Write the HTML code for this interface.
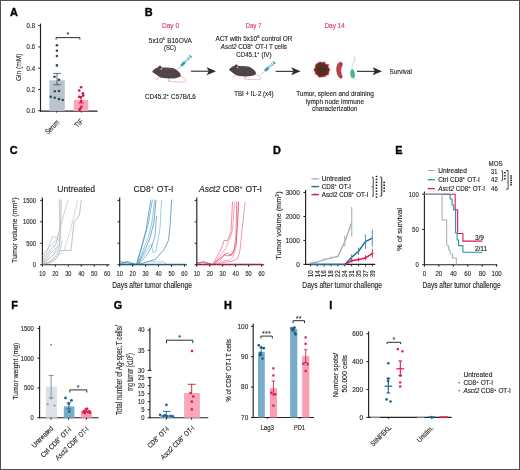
<!DOCTYPE html>
<html><head><meta charset="utf-8"><style>
html,body{margin:0;padding:0;background:#fff;}
#fig{position:relative;width:520px;height:470px;overflow:hidden;background:#fff;}
#fig svg{position:absolute;left:0;top:0;filter:blur(0.3px);}
#bd{position:absolute;left:0;top:0;width:518px;height:468px;border:1px solid #505050;pointer-events:none;}
text{font-family:"Liberation Sans", sans-serif;}
</style></head><body><div id="fig">
<svg width="520" height="470" viewBox="0 0 520 470" font-family='"Liberation Sans", sans-serif'>
<text x="10.00" y="15.80" font-size="10.9" font-weight="bold" fill="#000" stroke="#000" stroke-width="0.35">A</text>
<line x1="40.50" y1="23.60" x2="40.50" y2="111.60" stroke="#231f20" stroke-width="1.15" />
<line x1="40.00" y1="111.10" x2="97.50" y2="111.10" stroke="#231f20" stroke-width="1.15" />
<line x1="38.30" y1="25.70" x2="40.50" y2="25.70" stroke="#231f20" stroke-width="1.00" />
<text x="35.00" y="28.08" font-size="6.60" fill="#333333" stroke="#333333" stroke-width="0.16" text-anchor="end" textLength="8.40" lengthAdjust="spacingAndGlyphs">0.8</text>
<line x1="38.30" y1="46.95" x2="40.50" y2="46.95" stroke="#231f20" stroke-width="1.00" />
<text x="35.00" y="49.33" font-size="6.60" fill="#333333" stroke="#333333" stroke-width="0.16" text-anchor="end" textLength="8.40" lengthAdjust="spacingAndGlyphs">0.6</text>
<line x1="38.30" y1="68.20" x2="40.50" y2="68.20" stroke="#231f20" stroke-width="1.00" />
<text x="35.00" y="70.58" font-size="6.60" fill="#333333" stroke="#333333" stroke-width="0.16" text-anchor="end" textLength="8.40" lengthAdjust="spacingAndGlyphs">0.4</text>
<line x1="38.30" y1="89.45" x2="40.50" y2="89.45" stroke="#231f20" stroke-width="1.00" />
<text x="35.00" y="91.83" font-size="6.60" fill="#333333" stroke="#333333" stroke-width="0.16" text-anchor="end" textLength="8.40" lengthAdjust="spacingAndGlyphs">0.2</text>
<line x1="38.30" y1="110.70" x2="40.50" y2="110.70" stroke="#231f20" stroke-width="1.00" />
<text x="35.00" y="113.08" font-size="6.60" fill="#333333" stroke="#333333" stroke-width="0.16" text-anchor="end" textLength="8.40" lengthAdjust="spacingAndGlyphs">0.0</text>
<text x="0" y="2.74" font-size="7.60" fill="#333333" stroke="#333333" stroke-width="0.14" text-anchor="middle" textLength="27.50" lengthAdjust="spacingAndGlyphs" transform="translate(17.90 67.30) rotate(-90.0)">Gln (mM)</text>
<rect x="49.40" y="80.30" width="15.40" height="30.80" fill="#b9c5cd"/>
<rect x="73.80" y="99.90" width="14.50" height="11.20" fill="#f8a8b8"/>
<line x1="57.00" y1="73.40" x2="57.00" y2="84.80" stroke="#3a4a56" stroke-width="0.80" />
<line x1="53.20" y1="73.40" x2="60.80" y2="73.40" stroke="#3a4a56" stroke-width="0.80" />
<line x1="53.20" y1="84.80" x2="60.80" y2="84.80" stroke="#3a4a56" stroke-width="0.80" />
<line x1="81.10" y1="96.70" x2="81.10" y2="103.00" stroke="#d0103c" stroke-width="0.80" />
<line x1="78.30" y1="96.70" x2="83.90" y2="96.70" stroke="#d0103c" stroke-width="0.80" />
<line x1="78.30" y1="103.00" x2="83.90" y2="103.00" stroke="#d0103c" stroke-width="0.80" />
<circle cx="56.90" cy="45.30" r="1.30" fill="#34495a"/>
<circle cx="56.90" cy="50.80" r="1.30" fill="#34495a"/>
<circle cx="56.90" cy="56.00" r="1.30" fill="#34495a"/>
<circle cx="56.90" cy="65.40" r="1.30" fill="#34495a"/>
<circle cx="54.50" cy="76.70" r="1.30" fill="#34495a"/>
<circle cx="59.00" cy="79.80" r="1.30" fill="#34495a"/>
<circle cx="54.80" cy="91.30" r="1.30" fill="#34495a"/>
<circle cx="59.00" cy="91.00" r="1.30" fill="#34495a"/>
<circle cx="50.70" cy="96.80" r="1.30" fill="#34495a"/>
<circle cx="54.80" cy="97.70" r="1.30" fill="#34495a"/>
<circle cx="59.00" cy="99.10" r="1.30" fill="#34495a"/>
<circle cx="62.80" cy="100.00" r="1.30" fill="#34495a"/>
<circle cx="81.10" cy="87.20" r="1.30" fill="#e0103c"/>
<circle cx="79.20" cy="90.50" r="1.30" fill="#e0103c"/>
<circle cx="82.90" cy="93.40" r="1.30" fill="#e0103c"/>
<circle cx="83.20" cy="95.20" r="1.30" fill="#e0103c"/>
<circle cx="79.20" cy="96.70" r="1.30" fill="#e0103c"/>
<circle cx="80.70" cy="97.40" r="1.30" fill="#e0103c"/>
<circle cx="81.10" cy="101.40" r="1.30" fill="#e0103c"/>
<circle cx="81.40" cy="106.80" r="1.30" fill="#e0103c"/>
<circle cx="80.30" cy="108.60" r="1.30" fill="#e0103c"/>
<circle cx="79.60" cy="109.70" r="1.30" fill="#e0103c"/>
<line x1="56.50" y1="111.00" x2="56.50" y2="112.80" stroke="#231f20" stroke-width="0.70" />
<line x1="81.40" y1="111.00" x2="81.40" y2="112.80" stroke="#231f20" stroke-width="0.70" />
<path d="M56.10,39.50 V37.60 H79.90 V39.50" fill="none" stroke="#222" stroke-width="0.95" />
<text x="68.00" y="37.20" font-size="7.20" fill="#231f20" stroke="#231f20" stroke-width="0.05" text-anchor="middle" letter-spacing="0.20">*</text>
<text x="0" y="2.74" font-size="7.60" fill="#333333" stroke="#333333" stroke-width="0.14" text-anchor="end" textLength="16.80" lengthAdjust="spacingAndGlyphs" transform="translate(57.90 121.00) rotate(-45.0)">Serum</text>
<text x="0" y="2.74" font-size="7.60" fill="#333333" stroke="#333333" stroke-width="0.14" text-anchor="end" textLength="8.80" lengthAdjust="spacingAndGlyphs" transform="translate(81.80 120.00) rotate(-45.0)">TIF</text>
<text x="144.70" y="15.80" font-size="10.9" font-weight="bold" fill="#000" stroke="#000" stroke-width="0.35">B</text>
<text x="170.50" y="28.05" font-size="6.80" fill="#d8386a" stroke="#d8386a" stroke-width="0.14" text-anchor="middle" textLength="17.20" lengthAdjust="spacingAndGlyphs">Day 0</text>
<text x="253.50" y="27.85" font-size="6.80" fill="#d8386a" stroke="#d8386a" stroke-width="0.14" text-anchor="middle" textLength="16.00" lengthAdjust="spacingAndGlyphs">Day 7</text>
<text x="334.60" y="27.95" font-size="6.80" fill="#d8386a" stroke="#d8386a" stroke-width="0.14" text-anchor="middle" textLength="20.20" lengthAdjust="spacingAndGlyphs">Day 14</text>
<text x="170.30" y="42.75" font-size="6.80" fill="#231f20" stroke="#231f20" stroke-width="0.14" text-anchor="middle" textLength="43.00" lengthAdjust="spacingAndGlyphs">5x10<tspan dy="-2.58" font-size="4.08">5</tspan><tspan dy="2.58" dx="0.54"> B16OVA</tspan></text>
<text x="170.00" y="50.25" font-size="6.80" fill="#231f20" stroke="#231f20" stroke-width="0.14" text-anchor="middle" textLength="12.00" lengthAdjust="spacingAndGlyphs">(SC)</text>
<text x="170.40" y="98.65" font-size="6.80" fill="#231f20" stroke="#231f20" stroke-width="0.14" text-anchor="middle" textLength="50.80" lengthAdjust="spacingAndGlyphs">CD45.2<tspan dy="-2.58" font-size="4.08">+</tspan><tspan dy="2.58" dx="0.54"> C57B/L6</tspan></text>
<text x="253.90" y="40.95" font-size="6.80" fill="#231f20" stroke="#231f20" stroke-width="0.14" text-anchor="middle" textLength="76.90" lengthAdjust="spacingAndGlyphs">ACT with 5x10<tspan dy="-2.58" font-size="4.08">6</tspan><tspan dy="2.58" dx="0.54"> control OR</tspan></text>
<text x="253.90" y="48.95" font-size="6.80" fill="#231f20" stroke="#231f20" stroke-width="0.14" text-anchor="middle" textLength="66.10" lengthAdjust="spacingAndGlyphs"><tspan font-style="italic">Asct2</tspan> CD8<tspan dy="-2.58" font-size="4.08">+</tspan><tspan dy="2.58" dx="0.54"> OT-I T cells</tspan></text>
<text x="253.90" y="56.75" font-size="6.80" fill="#231f20" stroke="#231f20" stroke-width="0.14" text-anchor="middle" textLength="35.30" lengthAdjust="spacingAndGlyphs">CD45.1<tspan dy="-2.58" font-size="4.08">+</tspan><tspan dy="2.58" dx="0.54"> (IV)</tspan></text>
<text x="253.90" y="95.95" font-size="6.80" fill="#231f20" stroke="#231f20" stroke-width="0.14" text-anchor="middle" textLength="39.30" lengthAdjust="spacingAndGlyphs">TBI + IL-2 (x4)</text>
<text x="335.00" y="96.25" font-size="6.80" fill="#231f20" stroke="#231f20" stroke-width="0.14" text-anchor="middle" textLength="77.70" lengthAdjust="spacingAndGlyphs">Tumor, spleen and draining</text>
<text x="334.90" y="103.95" font-size="6.80" fill="#231f20" stroke="#231f20" stroke-width="0.14" text-anchor="middle" textLength="58.20" lengthAdjust="spacingAndGlyphs">lymph node immune</text>
<text x="334.70" y="111.25" font-size="6.80" fill="#231f20" stroke="#231f20" stroke-width="0.14" text-anchor="middle" textLength="45.30" lengthAdjust="spacingAndGlyphs">characterization</text>
<text x="389.60" y="73.95" font-size="6.80" fill="#231f20" stroke="#231f20" stroke-width="0.14" textLength="22.30" lengthAdjust="spacingAndGlyphs">Survival</text>
<line x1="191.00" y1="71.20" x2="209.00" y2="71.20" stroke="#2b2b2b" stroke-width="1.10" />
<path d="M216.00,71.20 L206.60,67.20 L208.80,71.20 L206.60,75.20 Z" fill="#2b2b2b" stroke="none" stroke-width="0.80" />
<line x1="275.70" y1="71.35" x2="293.60" y2="71.35" stroke="#2b2b2b" stroke-width="1.10" />
<path d="M300.60,71.35 L291.20,67.35 L293.40,71.35 L291.20,75.35 Z" fill="#2b2b2b" stroke="none" stroke-width="0.80" />
<line x1="357.00" y1="71.35" x2="375.00" y2="71.35" stroke="#2b2b2b" stroke-width="1.10" />
<path d="M382.00,71.35 L372.60,67.35 L374.80,71.35 L372.60,75.35 Z" fill="#2b2b2b" stroke="none" stroke-width="0.80" />
<g transform="translate(152.20 71.20) scale(1.060)"><path d="M25.8,4.6 C29.5,5.5 32.5,7.5 31.5,9.6 C30.5,10.8 22,9.9 15.5,9.6" fill="none" stroke="#e3a2a8" stroke-width="0.7"/><path d="M6.2,5.6 L4.8,7.6 L3.6,7.7 M15.8,6.6 L16.2,8.7 L14.6,9.0" fill="none" stroke="#e3a2a8" stroke-width="0.8"/><path d="M0,0 C1.5,-1.8 3.5,-3.2 5.5,-3.8 C6,-4.8 7.2,-5.4 8.2,-4.8 C8.8,-4.4 9,-3.8 9,-3.4 C12,-3.2 16,-3.4 19.6,-3.1 C22.5,-2 24.8,-0.2 26.4,2 C27.4,3.4 27,5 25.6,5.5 C23,6.5 20.5,6.9 18,6.9 C15,7 12.5,6.8 10.4,6.5 C8.6,6.2 7.4,5.8 6.6,5.2 C5,4.2 3.5,3.2 2,2 C1,1.4 0.2,0.8 0,0 Z" fill="#4f4447"/><path d="M10,-2.6 C14,-3 19,-3 21.5,-1.8 C17,-1.6 13,-1.4 10,-2.6 Z" fill="#6a5e60" opacity="0.7"/><ellipse cx="8.6" cy="-2.0" rx="0.8" ry="1.1" fill="#dba2aa"/><circle cx="0.5" cy="0.2" r="0.45" fill="#d9959c"/></g>
<g transform="translate(177.00 69.90) rotate(-44.79)"><line x1="0" y1="0" x2="5.92" y2="0" stroke="#6f9fb0" stroke-width="0.5"/><rect x="5.92" y="-1.3" width="10.26" height="2.6" rx="0.5" fill="#9fdcea"/><rect x="5.92" y="-1.3" width="5.13" height="2.6" rx="0.5" fill="#2f9fbe"/><rect x="16.18" y="-1.9" width="0.8" height="3.8" fill="#4fb0c8"/><line x1="16.57" y1="0" x2="19.73" y2="0" stroke="#8ccfe0" stroke-width="0.9"/><rect x="18.53" y="-1.6" width="1.2" height="3.2" rx="0.4" fill="#2a7f98"/></g>
<g transform="translate(229.00 69.50) scale(1.000)"><path d="M25.8,4.6 C29.5,5.5 32.5,7.5 31.5,9.6 C30.5,10.8 22,9.9 15.5,9.6" fill="none" stroke="#e3a2a8" stroke-width="0.7"/><path d="M6.2,5.6 L4.8,7.6 L3.6,7.7 M15.8,6.6 L16.2,8.7 L14.6,9.0" fill="none" stroke="#e3a2a8" stroke-width="0.8"/><path d="M0,0 C1.5,-1.8 3.5,-3.2 5.5,-3.8 C6,-4.8 7.2,-5.4 8.2,-4.8 C8.8,-4.4 9,-3.8 9,-3.4 C12,-3.2 16,-3.4 19.6,-3.1 C22.5,-2 24.8,-0.2 26.4,2 C27.4,3.4 27,5 25.6,5.5 C23,6.5 20.5,6.9 18,6.9 C15,7 12.5,6.8 10.4,6.5 C8.6,6.2 7.4,5.8 6.6,5.2 C5,4.2 3.5,3.2 2,2 C1,1.4 0.2,0.8 0,0 Z" fill="#4f4447"/><path d="M10,-2.6 C14,-3 19,-3 21.5,-1.8 C17,-1.6 13,-1.4 10,-2.6 Z" fill="#6a5e60" opacity="0.7"/><ellipse cx="8.6" cy="-2.0" rx="0.8" ry="1.1" fill="#dba2aa"/><circle cx="0.5" cy="0.2" r="0.45" fill="#d9959c"/></g>
<g transform="translate(260.80 74.40) rotate(-41.24)"><line x1="0" y1="0" x2="5.51" y2="0" stroke="#6f9fb0" stroke-width="0.5"/><rect x="5.51" y="-1.3" width="9.54" height="2.6" rx="0.5" fill="#9fdcea"/><rect x="5.51" y="-1.3" width="4.77" height="2.6" rx="0.5" fill="#2f9fbe"/><rect x="15.05" y="-1.9" width="0.8" height="3.8" fill="#4fb0c8"/><line x1="15.42" y1="0" x2="18.35" y2="0" stroke="#8ccfe0" stroke-width="0.9"/><rect x="17.15" y="-1.6" width="1.2" height="3.2" rx="0.4" fill="#2a7f98"/></g>
<defs><radialGradient id="tg"><stop offset="0" stop-color="#3e3424"/><stop offset="0.55" stop-color="#5a2a22"/><stop offset="1" stop-color="#8a2428"/></radialGradient><radialGradient id="th"><stop offset="0.6" stop-color="#f3b5b0" stop-opacity="0.7"/><stop offset="1" stop-color="#fbe0dc" stop-opacity="0"/></radialGradient></defs>
<circle cx="321.8" cy="69.5" r="10" fill="url(#th)"/>
<polygon points="329.92,69.50 329.08,71.05 328.65,72.55 328.63,74.46 326.78,75.03 325.61,76.10 324.13,76.66 322.55,76.63 321.00,77.10 319.28,77.25 318.00,76.08 317.24,74.56 315.35,74.18 315.45,72.33 314.71,71.01 313.73,69.50 315.23,68.10 315.48,66.69 315.51,64.93 316.70,63.84 318.07,63.03 319.43,62.22 321.02,62.04 322.51,62.70 324.31,61.78 325.21,63.59 326.28,64.52 328.57,64.58 328.11,66.69 328.56,68.06" fill="url(#tg)" stroke="#a83234" stroke-width="0.5"/>
<path d="M340.6,62.2 C342.6,62.4 342.9,64.6 341.4,67.0 C340.2,69.2 340.6,73.2 342.1,76.0 C342.8,77.8 341.2,78.8 339.8,77.8 C337.2,75.6 336.4,71.0 336.8,67.6 C337.1,64.6 338.6,62.0 340.6,62.2 Z" fill="#c2404c" stroke="#7c2432" stroke-width="0.60" />
<path d="M354.2,56.0 C355.6,58.5 354.0,60.5 353.5,62.5 C352.8,64.5 351.4,66.0 352.2,68.5" fill="none" stroke="#a8e0c0" stroke-width="0.80" />
<path d="M354.8,57.5 C356,59.5 355.2,61.5 354.4,62.8" fill="none" stroke="#c8ecd8" stroke-width="0.60" />
<path d="M352.0,69.0 C354.6,70.2 355.6,74.2 354.6,77.0 C353.8,78.8 351.6,78.6 350.8,76.6 C349.8,74.0 350.2,70.2 352.0,69.0 Z" fill="#48b884" stroke="none" stroke-width="0.80" />
<path d="M353.8,77.5 L355.6,79.6" fill="none" stroke="#48b884" stroke-width="0.60" />
<text x="9.70" y="153.80" font-size="10.9" font-weight="bold" fill="#000" stroke="#000" stroke-width="0.35">C</text>
<line x1="42.40" y1="197.60" x2="42.40" y2="265.20" stroke="#231f20" stroke-width="1.15" />
<line x1="41.90" y1="264.70" x2="109.70" y2="264.70" stroke="#231f20" stroke-width="1.15" />
<line x1="40.20" y1="264.70" x2="42.40" y2="264.70" stroke="#231f20" stroke-width="1.00" />
<line x1="40.20" y1="243.26" x2="42.40" y2="243.26" stroke="#231f20" stroke-width="1.00" />
<line x1="40.20" y1="221.83" x2="42.40" y2="221.83" stroke="#231f20" stroke-width="1.00" />
<line x1="40.20" y1="200.39" x2="42.40" y2="200.39" stroke="#231f20" stroke-width="1.00" />
<line x1="42.40" y1="264.70" x2="42.40" y2="266.70" stroke="#231f20" stroke-width="1.00" />
<text x="42.40" y="276.45" font-size="6.80" fill="#333333" stroke="#333333" stroke-width="0.16" text-anchor="middle" textLength="6.20" lengthAdjust="spacingAndGlyphs">10</text>
<line x1="55.35" y1="264.70" x2="55.35" y2="266.70" stroke="#231f20" stroke-width="1.00" />
<text x="55.35" y="276.45" font-size="6.80" fill="#333333" stroke="#333333" stroke-width="0.16" text-anchor="middle" textLength="6.20" lengthAdjust="spacingAndGlyphs">20</text>
<line x1="68.30" y1="264.70" x2="68.30" y2="266.70" stroke="#231f20" stroke-width="1.00" />
<text x="68.30" y="276.45" font-size="6.80" fill="#333333" stroke="#333333" stroke-width="0.16" text-anchor="middle" textLength="6.20" lengthAdjust="spacingAndGlyphs">30</text>
<line x1="81.25" y1="264.70" x2="81.25" y2="266.70" stroke="#231f20" stroke-width="1.00" />
<text x="81.25" y="276.45" font-size="6.80" fill="#333333" stroke="#333333" stroke-width="0.16" text-anchor="middle" textLength="6.20" lengthAdjust="spacingAndGlyphs">40</text>
<line x1="94.20" y1="264.70" x2="94.20" y2="266.70" stroke="#231f20" stroke-width="1.00" />
<text x="94.20" y="276.45" font-size="6.80" fill="#333333" stroke="#333333" stroke-width="0.16" text-anchor="middle" textLength="6.20" lengthAdjust="spacingAndGlyphs">50</text>
<line x1="107.15" y1="264.70" x2="107.15" y2="266.70" stroke="#231f20" stroke-width="1.00" />
<text x="107.15" y="276.45" font-size="6.80" fill="#333333" stroke="#333333" stroke-width="0.16" text-anchor="middle" textLength="6.20" lengthAdjust="spacingAndGlyphs">60</text>
<line x1="119.70" y1="197.60" x2="119.70" y2="265.20" stroke="#231f20" stroke-width="1.15" />
<line x1="119.20" y1="264.70" x2="187.00" y2="264.70" stroke="#231f20" stroke-width="1.15" />
<line x1="117.50" y1="264.70" x2="119.70" y2="264.70" stroke="#231f20" stroke-width="1.00" />
<line x1="117.50" y1="243.26" x2="119.70" y2="243.26" stroke="#231f20" stroke-width="1.00" />
<line x1="117.50" y1="221.83" x2="119.70" y2="221.83" stroke="#231f20" stroke-width="1.00" />
<line x1="117.50" y1="200.39" x2="119.70" y2="200.39" stroke="#231f20" stroke-width="1.00" />
<line x1="119.70" y1="264.70" x2="119.70" y2="266.70" stroke="#231f20" stroke-width="1.00" />
<text x="119.70" y="276.45" font-size="6.80" fill="#333333" stroke="#333333" stroke-width="0.16" text-anchor="middle" textLength="6.20" lengthAdjust="spacingAndGlyphs">10</text>
<line x1="132.65" y1="264.70" x2="132.65" y2="266.70" stroke="#231f20" stroke-width="1.00" />
<text x="132.65" y="276.45" font-size="6.80" fill="#333333" stroke="#333333" stroke-width="0.16" text-anchor="middle" textLength="6.20" lengthAdjust="spacingAndGlyphs">20</text>
<line x1="145.60" y1="264.70" x2="145.60" y2="266.70" stroke="#231f20" stroke-width="1.00" />
<text x="145.60" y="276.45" font-size="6.80" fill="#333333" stroke="#333333" stroke-width="0.16" text-anchor="middle" textLength="6.20" lengthAdjust="spacingAndGlyphs">30</text>
<line x1="158.55" y1="264.70" x2="158.55" y2="266.70" stroke="#231f20" stroke-width="1.00" />
<text x="158.55" y="276.45" font-size="6.80" fill="#333333" stroke="#333333" stroke-width="0.16" text-anchor="middle" textLength="6.20" lengthAdjust="spacingAndGlyphs">40</text>
<line x1="171.50" y1="264.70" x2="171.50" y2="266.70" stroke="#231f20" stroke-width="1.00" />
<text x="171.50" y="276.45" font-size="6.80" fill="#333333" stroke="#333333" stroke-width="0.16" text-anchor="middle" textLength="6.20" lengthAdjust="spacingAndGlyphs">50</text>
<line x1="184.45" y1="264.70" x2="184.45" y2="266.70" stroke="#231f20" stroke-width="1.00" />
<text x="184.45" y="276.45" font-size="6.80" fill="#333333" stroke="#333333" stroke-width="0.16" text-anchor="middle" textLength="6.20" lengthAdjust="spacingAndGlyphs">60</text>
<line x1="196.80" y1="197.60" x2="196.80" y2="265.20" stroke="#231f20" stroke-width="1.15" />
<line x1="196.30" y1="264.70" x2="264.10" y2="264.70" stroke="#231f20" stroke-width="1.15" />
<line x1="194.60" y1="264.70" x2="196.80" y2="264.70" stroke="#231f20" stroke-width="1.00" />
<line x1="194.60" y1="243.26" x2="196.80" y2="243.26" stroke="#231f20" stroke-width="1.00" />
<line x1="194.60" y1="221.83" x2="196.80" y2="221.83" stroke="#231f20" stroke-width="1.00" />
<line x1="194.60" y1="200.39" x2="196.80" y2="200.39" stroke="#231f20" stroke-width="1.00" />
<line x1="196.80" y1="264.70" x2="196.80" y2="266.70" stroke="#231f20" stroke-width="1.00" />
<text x="196.80" y="276.45" font-size="6.80" fill="#333333" stroke="#333333" stroke-width="0.16" text-anchor="middle" textLength="6.20" lengthAdjust="spacingAndGlyphs">10</text>
<line x1="209.75" y1="264.70" x2="209.75" y2="266.70" stroke="#231f20" stroke-width="1.00" />
<text x="209.75" y="276.45" font-size="6.80" fill="#333333" stroke="#333333" stroke-width="0.16" text-anchor="middle" textLength="6.20" lengthAdjust="spacingAndGlyphs">20</text>
<line x1="222.70" y1="264.70" x2="222.70" y2="266.70" stroke="#231f20" stroke-width="1.00" />
<text x="222.70" y="276.45" font-size="6.80" fill="#333333" stroke="#333333" stroke-width="0.16" text-anchor="middle" textLength="6.20" lengthAdjust="spacingAndGlyphs">30</text>
<line x1="235.65" y1="264.70" x2="235.65" y2="266.70" stroke="#231f20" stroke-width="1.00" />
<text x="235.65" y="276.45" font-size="6.80" fill="#333333" stroke="#333333" stroke-width="0.16" text-anchor="middle" textLength="6.20" lengthAdjust="spacingAndGlyphs">40</text>
<line x1="248.60" y1="264.70" x2="248.60" y2="266.70" stroke="#231f20" stroke-width="1.00" />
<text x="248.60" y="276.45" font-size="6.80" fill="#333333" stroke="#333333" stroke-width="0.16" text-anchor="middle" textLength="6.20" lengthAdjust="spacingAndGlyphs">50</text>
<line x1="261.55" y1="264.70" x2="261.55" y2="266.70" stroke="#231f20" stroke-width="1.00" />
<text x="261.55" y="276.45" font-size="6.80" fill="#333333" stroke="#333333" stroke-width="0.16" text-anchor="middle" textLength="6.20" lengthAdjust="spacingAndGlyphs">60</text>
<text x="36.10" y="267.08" font-size="6.60" fill="#333333" stroke="#333333" stroke-width="0.16" text-anchor="end" textLength="3.25" lengthAdjust="spacingAndGlyphs">0</text>
<text x="36.10" y="245.64" font-size="6.60" fill="#333333" stroke="#333333" stroke-width="0.16" text-anchor="end" textLength="9.75" lengthAdjust="spacingAndGlyphs">500</text>
<text x="36.10" y="224.21" font-size="6.60" fill="#333333" stroke="#333333" stroke-width="0.16" text-anchor="end" textLength="13.00" lengthAdjust="spacingAndGlyphs">1000</text>
<text x="36.10" y="202.77" font-size="6.60" fill="#333333" stroke="#333333" stroke-width="0.16" text-anchor="end" textLength="13.00" lengthAdjust="spacingAndGlyphs">1500</text>
<text x="76.20" y="192.32" font-size="8.40" fill="#231f20" stroke="#231f20" stroke-width="0.14" text-anchor="middle" textLength="38.00" lengthAdjust="spacingAndGlyphs">Untreated</text>
<text x="153.50" y="192.32" font-size="8.40" fill="#231f20" stroke="#231f20" stroke-width="0.14" text-anchor="middle" textLength="39.80" lengthAdjust="spacingAndGlyphs">CD8<tspan dy="-3.19" font-size="5.04">+</tspan><tspan dy="3.19" dx="0.67"> OT-I</tspan></text>
<text x="230.50" y="192.32" font-size="8.40" fill="#231f20" stroke="#231f20" stroke-width="0.14" text-anchor="middle" textLength="63.00" lengthAdjust="spacingAndGlyphs"><tspan font-style="italic">Asct2</tspan> CD8<tspan dy="-3.19" font-size="5.04">+</tspan><tspan dy="3.19" dx="0.67"> OT-I</tspan></text>
<text x="0" y="2.59" font-size="7.20" fill="#231f20" stroke="#231f20" stroke-width="0.14" text-anchor="middle" textLength="65.50" lengthAdjust="spacingAndGlyphs" transform="translate(14.80 230.20) rotate(-90.0)">Tumor volume (mm<tspan dy="-2.74" font-size="4.32">3</tspan><tspan dy="2.74" dx="0.58">)</tspan></text>
<text x="152.10" y="288.39" font-size="8.30" fill="#231f20" stroke="#231f20" stroke-width="0.14" text-anchor="middle" textLength="79.60" lengthAdjust="spacingAndGlyphs">Days after tumor challenge</text>
<polyline points="42.50,262.00 47.00,258.00 52.00,252.00 56.00,248.00 59.50,246.00 59.80,225.00 59.20,199.60" fill="none" stroke="#9aa4aa" stroke-width="0.60" stroke-linejoin="round" />
<polyline points="42.50,263.00 48.00,260.00 53.00,255.00 57.00,248.00 60.60,240.70 61.40,199.60" fill="none" stroke="#b4bcc0" stroke-width="0.60" stroke-linejoin="round" />
<polyline points="42.50,258.00 46.00,254.00 49.50,245.00 52.40,236.20 56.90,238.50 68.10,199.60" fill="none" stroke="#a8b0b5" stroke-width="0.60" stroke-linejoin="round" />
<polyline points="42.50,264.00 48.00,262.50 53.00,259.00 57.00,254.00 59.90,250.40 71.00,250.40 74.00,222.00 79.30,215.40 81.50,199.60" fill="none" stroke="#8f999f" stroke-width="0.60" stroke-linejoin="round" />
<polyline points="42.50,263.50 50.00,262.00 56.00,258.00 60.00,254.00 64.40,249.60 70.30,230.30 77.80,199.60" fill="none" stroke="#b9c0c4" stroke-width="0.60" stroke-linejoin="round" />
<polyline points="42.50,256.00 45.00,252.00 49.00,247.00 53.00,243.00 57.00,240.00 60.00,238.00" fill="none" stroke="#a0a9ae" stroke-width="0.60" stroke-linejoin="round" />
<polyline points="42.50,261.00 47.00,257.00 51.00,251.00 55.00,246.00 58.50,242.00 60.20,236.00 60.50,215.00 60.80,199.60" fill="none" stroke="#c0c6ca" stroke-width="0.60" stroke-linejoin="round" />
<polyline points="42.50,264.30 50.00,263.00 55.00,260.00 58.00,256.00 60.00,250.00 62.00,241.00" fill="none" stroke="#98a2a8" stroke-width="0.60" stroke-linejoin="round" />
<polyline points="42.50,260.00 46.00,256.00 50.00,250.00 53.00,246.00 56.00,244.00 58.50,234.00" fill="none" stroke="#aab2b7" stroke-width="0.60" stroke-linejoin="round" />
<polyline points="42.50,262.50 46.00,261.00 50.00,258.00 54.00,254.00 57.00,251.00 59.50,247.00" fill="none" stroke="#9aa4aa" stroke-width="0.60" stroke-linejoin="round" />
<polyline points="136.50,264.00 142.00,245.00 146.00,230.00 150.90,199.60" fill="none" stroke="#2276a0" stroke-width="0.60" stroke-linejoin="round" />
<polyline points="137.00,264.00 143.00,243.00 148.00,225.00 152.50,199.60" fill="none" stroke="#3090bc" stroke-width="0.60" stroke-linejoin="round" />
<polyline points="137.50,264.00 144.00,248.00 149.00,235.00 152.00,222.00 154.80,199.60" fill="none" stroke="#44a2cc" stroke-width="0.60" stroke-linejoin="round" />
<polyline points="138.00,264.00 145.00,250.00 150.00,238.00 154.00,222.00 156.00,199.60" fill="none" stroke="#1d6a94" stroke-width="0.60" stroke-linejoin="round" />
<polyline points="138.50,264.00 146.00,252.00 151.00,244.00 153.20,252.70 155.50,252.00 158.00,240.00 160.00,228.00 161.60,199.60" fill="none" stroke="#54acd2" stroke-width="0.60" stroke-linejoin="round" />
<polyline points="139.00,264.00 147.00,255.00 152.00,246.00 155.00,236.00 156.60,215.90" fill="none" stroke="#2f86b2" stroke-width="0.60" stroke-linejoin="round" />
<polyline points="140.00,264.00 150.00,261.00 155.50,259.50 160.00,254.00 164.00,249.60 168.50,240.40 170.00,226.60 171.60,199.60" fill="none" stroke="#21668e" stroke-width="0.60" stroke-linejoin="round" />
<polyline points="147.00,261.90 164.00,261.90 166.00,264.00" fill="none" stroke="#5cb4d8" stroke-width="0.60" stroke-linejoin="round" />
<polyline points="120.00,261.00 124.00,262.50 128.00,261.50 132.00,263.00 136.00,264.00" fill="none" stroke="#3288b4" stroke-width="0.60" stroke-linejoin="round" />
<polyline points="120.00,263.50 126.00,262.00 130.00,263.50 135.00,264.00" fill="none" stroke="#2276a0" stroke-width="0.60" stroke-linejoin="round" />
<polyline points="120.00,262.50 123.00,263.50 127.00,262.80 133.00,264.00" fill="none" stroke="#4aa6cc" stroke-width="0.60" stroke-linejoin="round" />
<line x1="120.20" y1="264.30" x2="185.50" y2="264.30" stroke="#1f5f80" stroke-width="1.00" />
<line x1="197.30" y1="264.30" x2="262.50" y2="264.30" stroke="#a8173c" stroke-width="1.10" />
<polyline points="213.00,264.00 218.00,255.00 222.00,247.00 224.00,240.50 227.50,240.50 231.00,232.00 232.50,201.50" fill="none" stroke="#f0406a" stroke-width="0.60" stroke-linejoin="round" />
<polyline points="214.00,264.00 220.00,256.00 226.00,248.00 230.00,238.00 232.50,230.00 234.50,201.50" fill="none" stroke="#f46684" stroke-width="0.60" stroke-linejoin="round" />
<polyline points="215.00,264.00 221.00,259.00 225.00,254.00 228.00,253.50 231.00,256.00 234.00,250.00 236.00,235.00 236.70,201.50" fill="none" stroke="#e82a58" stroke-width="0.60" stroke-linejoin="round" />
<polyline points="216.00,264.00 223.00,261.00 229.00,260.00 233.00,257.00 236.00,248.00 238.60,201.50" fill="none" stroke="#f47a94" stroke-width="0.60" stroke-linejoin="round" />
<polyline points="218.00,264.00 226.00,262.00 233.00,261.00 238.00,258.00 240.00,250.00 242.00,230.00 245.20,201.50" fill="none" stroke="#ee4c72" stroke-width="0.60" stroke-linejoin="round" />
<polyline points="213.00,264.00 219.00,259.00 224.00,255.00 228.00,256.00 233.00,253.00 236.00,245.00 237.50,225.00 238.60,201.50" fill="none" stroke="#e0305a" stroke-width="0.60" stroke-linejoin="round" />
<polyline points="197.00,262.00 200.00,263.00 204.00,261.50 208.00,263.00 212.00,264.00" fill="none" stroke="#c8204a" stroke-width="0.60" stroke-linejoin="round" />
<polyline points="197.00,263.50 202.00,262.00 206.00,263.50 210.00,264.00" fill="none" stroke="#d02850" stroke-width="0.60" stroke-linejoin="round" />
<text x="272.90" y="153.60" font-size="10.9" font-weight="bold" fill="#000" stroke="#000" stroke-width="0.35">D</text>
<line x1="305.60" y1="190.00" x2="305.60" y2="264.90" stroke="#231f20" stroke-width="1.15" />
<line x1="305.10" y1="264.40" x2="375.30" y2="264.40" stroke="#231f20" stroke-width="1.15" />
<line x1="303.40" y1="264.40" x2="305.60" y2="264.40" stroke="#231f20" stroke-width="1.00" />
<text x="299.80" y="266.78" font-size="6.60" fill="#333333" stroke="#333333" stroke-width="0.16" text-anchor="end" textLength="3.60" lengthAdjust="spacingAndGlyphs">0</text>
<line x1="303.40" y1="240.45" x2="305.60" y2="240.45" stroke="#231f20" stroke-width="1.00" />
<text x="299.80" y="242.83" font-size="6.60" fill="#333333" stroke="#333333" stroke-width="0.16" text-anchor="end" textLength="14.40" lengthAdjust="spacingAndGlyphs">1000</text>
<line x1="303.40" y1="216.50" x2="305.60" y2="216.50" stroke="#231f20" stroke-width="1.00" />
<text x="299.80" y="218.88" font-size="6.60" fill="#333333" stroke="#333333" stroke-width="0.16" text-anchor="end" textLength="14.40" lengthAdjust="spacingAndGlyphs">2000</text>
<line x1="303.40" y1="192.55" x2="305.60" y2="192.55" stroke="#231f20" stroke-width="1.00" />
<text x="299.80" y="194.93" font-size="6.60" fill="#333333" stroke="#333333" stroke-width="0.16" text-anchor="end" textLength="14.40" lengthAdjust="spacingAndGlyphs">3000</text>
<line x1="310.40" y1="264.40" x2="310.40" y2="266.40" stroke="#231f20" stroke-width="1.00" />
<text x="0" y="2.27" font-size="6.30" fill="#333333" stroke="#333333" stroke-width="0.14" text-anchor="end" textLength="7.00" lengthAdjust="spacingAndGlyphs" transform="translate(310.40 270.20) rotate(-90.0)">10</text>
<line x1="317.28" y1="264.40" x2="317.28" y2="266.40" stroke="#231f20" stroke-width="1.00" />
<text x="0" y="2.27" font-size="6.30" fill="#333333" stroke="#333333" stroke-width="0.14" text-anchor="end" textLength="7.00" lengthAdjust="spacingAndGlyphs" transform="translate(317.28 270.20) rotate(-90.0)">14</text>
<line x1="324.16" y1="264.40" x2="324.16" y2="266.40" stroke="#231f20" stroke-width="1.00" />
<text x="0" y="2.27" font-size="6.30" fill="#333333" stroke="#333333" stroke-width="0.14" text-anchor="end" textLength="7.00" lengthAdjust="spacingAndGlyphs" transform="translate(324.16 270.20) rotate(-90.0)">16</text>
<line x1="331.04" y1="264.40" x2="331.04" y2="266.40" stroke="#231f20" stroke-width="1.00" />
<text x="0" y="2.27" font-size="6.30" fill="#333333" stroke="#333333" stroke-width="0.14" text-anchor="end" textLength="7.00" lengthAdjust="spacingAndGlyphs" transform="translate(331.04 270.20) rotate(-90.0)">18</text>
<line x1="337.92" y1="264.40" x2="337.92" y2="266.40" stroke="#231f20" stroke-width="1.00" />
<text x="0" y="2.27" font-size="6.30" fill="#333333" stroke="#333333" stroke-width="0.14" text-anchor="end" textLength="7.00" lengthAdjust="spacingAndGlyphs" transform="translate(337.92 270.20) rotate(-90.0)">22</text>
<line x1="344.80" y1="264.40" x2="344.80" y2="266.40" stroke="#231f20" stroke-width="1.00" />
<text x="0" y="2.27" font-size="6.30" fill="#333333" stroke="#333333" stroke-width="0.14" text-anchor="end" textLength="7.00" lengthAdjust="spacingAndGlyphs" transform="translate(344.80 270.20) rotate(-90.0)">24</text>
<line x1="351.68" y1="264.40" x2="351.68" y2="266.40" stroke="#231f20" stroke-width="1.00" />
<text x="0" y="2.27" font-size="6.30" fill="#333333" stroke="#333333" stroke-width="0.14" text-anchor="end" textLength="7.00" lengthAdjust="spacingAndGlyphs" transform="translate(351.68 270.20) rotate(-90.0)">31</text>
<line x1="358.56" y1="264.40" x2="358.56" y2="266.40" stroke="#231f20" stroke-width="1.00" />
<text x="0" y="2.27" font-size="6.30" fill="#333333" stroke="#333333" stroke-width="0.14" text-anchor="end" textLength="7.00" lengthAdjust="spacingAndGlyphs" transform="translate(358.56 270.20) rotate(-90.0)">35</text>
<line x1="365.44" y1="264.40" x2="365.44" y2="266.40" stroke="#231f20" stroke-width="1.00" />
<text x="0" y="2.27" font-size="6.30" fill="#333333" stroke="#333333" stroke-width="0.14" text-anchor="end" textLength="7.00" lengthAdjust="spacingAndGlyphs" transform="translate(365.44 270.20) rotate(-90.0)">37</text>
<line x1="372.32" y1="264.40" x2="372.32" y2="266.40" stroke="#231f20" stroke-width="1.00" />
<text x="0" y="2.27" font-size="6.30" fill="#333333" stroke="#333333" stroke-width="0.14" text-anchor="end" textLength="7.00" lengthAdjust="spacingAndGlyphs" transform="translate(372.32 270.20) rotate(-90.0)">39</text>
<text x="0" y="2.66" font-size="7.40" fill="#231f20" stroke="#231f20" stroke-width="0.14" text-anchor="middle" textLength="68.00" lengthAdjust="spacingAndGlyphs" transform="translate(278.70 225.40) rotate(-90.0)">Tumor volume (mm<tspan dy="-2.81" font-size="4.44">3</tspan><tspan dy="2.81" dx="0.59">)</tspan></text>
<text x="342.20" y="288.39" font-size="8.30" fill="#231f20" stroke="#231f20" stroke-width="0.14" text-anchor="middle" textLength="79.70" lengthAdjust="spacingAndGlyphs">Days after tumor challenge</text>
<polyline points="310.40,263.20 317.28,262.00 324.16,259.61 331.04,257.93 337.92,256.26 344.80,241.65 351.68,222.49" fill="none" stroke="#a3abb0" stroke-width="1.30" stroke-linejoin="round" />
<line x1="310.40" y1="263.92" x2="310.40" y2="262.48" stroke="#b8bec2" stroke-width="1.30" />
<line x1="317.28" y1="262.96" x2="317.28" y2="261.05" stroke="#b8bec2" stroke-width="1.30" />
<line x1="324.16" y1="260.81" x2="324.16" y2="258.41" stroke="#b8bec2" stroke-width="1.30" />
<line x1="331.04" y1="259.61" x2="331.04" y2="256.50" stroke="#b8bec2" stroke-width="1.30" />
<line x1="337.92" y1="257.45" x2="337.92" y2="255.06" stroke="#b8bec2" stroke-width="1.30" />
<line x1="344.80" y1="246.44" x2="344.80" y2="235.66" stroke="#b8bec2" stroke-width="1.30" />
<line x1="351.68" y1="236.86" x2="351.68" y2="206.92" stroke="#b8bec2" stroke-width="1.30" />
<polyline points="310.40,264.40 317.28,264.40 324.16,264.40 331.04,264.40 337.92,264.40 344.80,264.40 351.68,257.21 358.56,251.23 365.44,241.65 372.32,238.05" fill="none" stroke="#1f6e96" stroke-width="1.50" stroke-linejoin="round" />
<line x1="351.68" y1="260.81" x2="351.68" y2="254.34" stroke="#3588b4" stroke-width="0.90" />
<line x1="358.56" y1="254.82" x2="358.56" y2="247.63" stroke="#3588b4" stroke-width="0.90" />
<line x1="365.44" y1="248.83" x2="365.44" y2="234.46" stroke="#3588b4" stroke-width="0.90" />
<line x1="372.32" y1="246.44" x2="372.32" y2="229.67" stroke="#3588b4" stroke-width="0.90" />
<polyline points="344.80,264.40 351.68,260.81 358.56,259.61 365.44,257.93 372.32,253.62" fill="none" stroke="#e0174a" stroke-width="1.50" stroke-linejoin="round" />
<line x1="351.68" y1="262.48" x2="351.68" y2="258.89" stroke="#e0174a" stroke-width="0.90" />
<line x1="358.56" y1="261.53" x2="358.56" y2="257.45" stroke="#e0174a" stroke-width="0.90" />
<line x1="365.44" y1="260.33" x2="365.44" y2="255.30" stroke="#e0174a" stroke-width="0.90" />
<line x1="372.32" y1="257.69" x2="372.32" y2="248.83" stroke="#e0174a" stroke-width="0.90" />
<circle cx="351.68" cy="260.81" r="1.10" fill="#e0174a"/>
<circle cx="358.56" cy="259.61" r="1.10" fill="#e0174a"/>
<circle cx="365.44" cy="257.93" r="1.10" fill="#e0174a"/>
<circle cx="372.32" cy="253.62" r="1.10" fill="#e0174a"/>
<line x1="311.40" y1="178.90" x2="319.10" y2="178.90" stroke="#a3abb0" stroke-width="1.10" />
<circle cx="315.20" cy="178.90" r="0.80" fill="#a3abb0"/>
<line x1="311.40" y1="186.60" x2="319.10" y2="186.60" stroke="#1f6e96" stroke-width="1.30" />
<circle cx="315.20" cy="186.60" r="0.90" fill="#1f6e96"/>
<line x1="311.40" y1="194.60" x2="319.10" y2="194.60" stroke="#e0174a" stroke-width="1.30" />
<circle cx="315.20" cy="194.60" r="1.00" fill="#e0174a"/>
<text x="321.80" y="180.84" font-size="6.50" fill="#231f20" stroke="#231f20" stroke-width="0.14" textLength="29.00" lengthAdjust="spacingAndGlyphs">Untreated</text>
<text x="321.80" y="188.94" font-size="6.50" fill="#231f20" stroke="#231f20" stroke-width="0.14" textLength="29.30" lengthAdjust="spacingAndGlyphs">CD8<tspan dy="-2.47" font-size="3.90">+</tspan><tspan dy="2.47" dx="0.52"> OT-I</tspan></text>
<text x="321.80" y="196.84" font-size="6.50" fill="#231f20" stroke="#231f20" stroke-width="0.14" textLength="46.50" lengthAdjust="spacingAndGlyphs">Asct2 CD8<tspan dy="-2.47" font-size="3.90">+</tspan><tspan dy="2.47" dx="0.52"> OT-I</tspan></text>
<path d="M372.0,177.1 H373.2 V196.2 H372.0" fill="none" stroke="#231f20" stroke-width="0.80" />
<path d="M373.2,186.7 H371.6" fill="none" stroke="#231f20" stroke-width="0.60" />
<rect x="375.70" y="175.80" width="1.6" height="1.4" fill="#111"/>
<rect x="375.70" y="178.73" width="1.6" height="1.4" fill="#111"/>
<rect x="375.70" y="181.66" width="1.6" height="1.4" fill="#111"/>
<rect x="375.70" y="184.59" width="1.6" height="1.4" fill="#111"/>
<rect x="375.70" y="187.51" width="1.6" height="1.4" fill="#111"/>
<rect x="375.70" y="190.44" width="1.6" height="1.4" fill="#111"/>
<rect x="375.70" y="193.37" width="1.6" height="1.4" fill="#111"/>
<rect x="375.70" y="196.30" width="1.6" height="1.4" fill="#111"/>
<path d="M379.8,177.1 H381.4 V196.2 H379.8" fill="none" stroke="#231f20" stroke-width="0.80" />
<line x1="382.60" y1="178.00" x2="382.60" y2="195.40" stroke="#888" stroke-width="0.50" />
<rect x="383.40" y="181.70" width="1.6" height="1.4" fill="#111"/>
<rect x="383.40" y="184.57" width="1.6" height="1.4" fill="#111"/>
<rect x="383.40" y="187.43" width="1.6" height="1.4" fill="#111"/>
<rect x="383.40" y="190.30" width="1.6" height="1.4" fill="#111"/>
<text x="395.20" y="153.80" font-size="10.9" font-weight="bold" fill="#000" stroke="#000" stroke-width="0.35">E</text>
<line x1="424.40" y1="191.40" x2="424.40" y2="265.20" stroke="#231f20" stroke-width="1.15" />
<line x1="423.90" y1="264.70" x2="497.30" y2="264.70" stroke="#231f20" stroke-width="1.15" />
<line x1="422.20" y1="264.70" x2="424.40" y2="264.70" stroke="#231f20" stroke-width="1.00" />
<text x="418.70" y="267.08" font-size="6.60" fill="#333333" stroke="#333333" stroke-width="0.16" text-anchor="end" textLength="3.30" lengthAdjust="spacingAndGlyphs">0</text>
<line x1="422.20" y1="229.45" x2="424.40" y2="229.45" stroke="#231f20" stroke-width="1.00" />
<text x="418.70" y="231.83" font-size="6.60" fill="#333333" stroke="#333333" stroke-width="0.16" text-anchor="end" textLength="6.60" lengthAdjust="spacingAndGlyphs">50</text>
<line x1="422.20" y1="194.20" x2="424.40" y2="194.20" stroke="#231f20" stroke-width="1.00" />
<text x="418.70" y="196.58" font-size="6.60" fill="#333333" stroke="#333333" stroke-width="0.16" text-anchor="end" textLength="9.90" lengthAdjust="spacingAndGlyphs">100</text>
<line x1="424.40" y1="264.70" x2="424.40" y2="266.70" stroke="#231f20" stroke-width="1.00" />
<text x="424.40" y="275.98" font-size="6.60" fill="#333333" stroke="#333333" stroke-width="0.16" text-anchor="middle" textLength="3.40" lengthAdjust="spacingAndGlyphs">0</text>
<line x1="438.85" y1="264.70" x2="438.85" y2="266.70" stroke="#231f20" stroke-width="1.00" />
<text x="438.85" y="275.98" font-size="6.60" fill="#333333" stroke="#333333" stroke-width="0.16" text-anchor="middle" textLength="6.80" lengthAdjust="spacingAndGlyphs">20</text>
<line x1="453.30" y1="264.70" x2="453.30" y2="266.70" stroke="#231f20" stroke-width="1.00" />
<text x="453.30" y="275.98" font-size="6.60" fill="#333333" stroke="#333333" stroke-width="0.16" text-anchor="middle" textLength="6.80" lengthAdjust="spacingAndGlyphs">40</text>
<line x1="467.75" y1="264.70" x2="467.75" y2="266.70" stroke="#231f20" stroke-width="1.00" />
<text x="467.75" y="275.98" font-size="6.60" fill="#333333" stroke="#333333" stroke-width="0.16" text-anchor="middle" textLength="6.80" lengthAdjust="spacingAndGlyphs">60</text>
<line x1="482.20" y1="264.70" x2="482.20" y2="266.70" stroke="#231f20" stroke-width="1.00" />
<text x="482.20" y="275.98" font-size="6.60" fill="#333333" stroke="#333333" stroke-width="0.16" text-anchor="middle" textLength="6.80" lengthAdjust="spacingAndGlyphs">80</text>
<line x1="496.65" y1="264.70" x2="496.65" y2="266.70" stroke="#231f20" stroke-width="1.00" />
<text x="496.65" y="275.98" font-size="6.60" fill="#333333" stroke="#333333" stroke-width="0.16" text-anchor="middle" textLength="10.20" lengthAdjust="spacingAndGlyphs">100</text>
<text x="0" y="2.88" font-size="8.00" fill="#231f20" stroke="#231f20" stroke-width="0.14" text-anchor="middle" textLength="43.00" lengthAdjust="spacingAndGlyphs" transform="translate(399.60 229.60) rotate(-90.0)">% of survival</text>
<text x="461.60" y="288.39" font-size="8.30" fill="#231f20" stroke="#231f20" stroke-width="0.14" text-anchor="middle" textLength="78.00" lengthAdjust="spacingAndGlyphs">Days after tumor challenge</text>
<polyline points="424.40,194.20 455.18,194.20 455.18,209.71 457.63,209.71 457.63,233.47 462.91,233.47 462.91,241.15 482.42,241.15 482.42,241.15" fill="none" stroke="#e0174a" stroke-width="1.10" stroke-linejoin="round" />
<polyline points="424.40,194.20 450.12,194.20 450.12,198.99 452.07,198.99 452.07,204.99 453.59,204.99 453.59,209.99 455.61,209.99 455.61,233.05 457.13,233.05 457.13,240.02 458.57,240.02 458.57,245.66 462.91,245.66 462.91,252.29 482.42,252.29 482.42,252.29" fill="none" stroke="#2a92a6" stroke-width="1.10" stroke-linejoin="round" />
<polyline points="424.40,194.20 442.03,194.20 442.03,219.93 446.73,219.93 446.73,245.66 448.68,245.66 448.68,250.18 450.27,250.18 450.27,253.91 452.51,253.91 452.51,258.07 456.33,258.07 456.33,264.70" fill="none" stroke="#a3abb0" stroke-width="1.00" stroke-linejoin="round" />
<text x="474.90" y="239.65" font-size="6.80" fill="#231f20" stroke="#231f20" stroke-width="0.14" textLength="9.00" lengthAdjust="spacingAndGlyphs">3/9</text>
<text x="474.90" y="251.45" font-size="6.80" fill="#231f20" stroke="#231f20" stroke-width="0.14" textLength="12.30" lengthAdjust="spacingAndGlyphs">2/11</text>
<line x1="427.80" y1="170.50" x2="434.80" y2="170.50" stroke="#a3abb0" stroke-width="1.00" />
<line x1="427.80" y1="179.70" x2="434.80" y2="179.70" stroke="#2a92a6" stroke-width="1.30" />
<line x1="427.80" y1="188.60" x2="434.80" y2="188.60" stroke="#e0174a" stroke-width="1.30" />
<text x="438.20" y="172.80" font-size="6.40" fill="#231f20" stroke="#231f20" stroke-width="0.14" textLength="28.70" lengthAdjust="spacingAndGlyphs">Untreated</text>
<text x="438.20" y="181.90" font-size="6.40" fill="#231f20" stroke="#231f20" stroke-width="0.14" textLength="41.60" lengthAdjust="spacingAndGlyphs">Ctrl CD8<tspan dy="-2.43" font-size="3.84">+</tspan><tspan dy="2.43" dx="0.51"> OT-I</tspan></text>
<text x="438.20" y="190.70" font-size="6.40" fill="#231f20" stroke="#231f20" stroke-width="0.14" textLength="46.70" lengthAdjust="spacingAndGlyphs"><tspan font-style="italic">Asct2</tspan> CD8<tspan dy="-2.43" font-size="3.84">+</tspan><tspan dy="2.43" dx="0.51"> OT-I</tspan></text>
<text x="488.60" y="165.80" font-size="6.40" fill="#231f20" stroke="#231f20" stroke-width="0.14" textLength="14.00" lengthAdjust="spacingAndGlyphs">MOS</text>
<text x="491.10" y="174.38" font-size="6.60" fill="#231f20" stroke="#231f20" stroke-width="0.14" textLength="6.20" lengthAdjust="spacingAndGlyphs">31</text>
<text x="491.10" y="182.48" font-size="6.60" fill="#231f20" stroke="#231f20" stroke-width="0.14" textLength="6.60" lengthAdjust="spacingAndGlyphs">42</text>
<text x="491.10" y="191.48" font-size="6.60" fill="#231f20" stroke="#231f20" stroke-width="0.14" textLength="6.60" lengthAdjust="spacingAndGlyphs">46</text>
<path d="M501.2,170.9 H502.6 V180.3 H501.2" fill="none" stroke="#231f20" stroke-width="0.80" />
<rect x="504.10" y="172.10" width="1.6" height="1.4" fill="#111"/>
<rect x="504.10" y="175.10" width="1.6" height="1.4" fill="#111"/>
<rect x="504.10" y="178.10" width="1.6" height="1.4" fill="#111"/>
<path d="M506.0,170.5 H508.1 V189.2 H506.0" fill="none" stroke="#231f20" stroke-width="0.80" />
<rect x="510.30" y="175.30" width="1.6" height="1.4" fill="#111"/>
<rect x="510.30" y="177.50" width="1.6" height="1.4" fill="#111"/>
<rect x="510.30" y="179.70" width="1.6" height="1.4" fill="#111"/>
<rect x="510.30" y="181.90" width="1.6" height="1.4" fill="#111"/>
<rect x="510.30" y="184.10" width="1.6" height="1.4" fill="#111"/>
<text x="11.20" y="308.80" font-size="10.9" font-weight="bold" fill="#000" stroke="#000" stroke-width="0.35">F</text>
<line x1="39.60" y1="325.80" x2="39.60" y2="418.20" stroke="#231f20" stroke-width="1.15" />
<line x1="39.10" y1="417.70" x2="98.60" y2="417.70" stroke="#231f20" stroke-width="1.15" />
<line x1="37.40" y1="417.70" x2="39.60" y2="417.70" stroke="#231f20" stroke-width="1.00" />
<text x="33.70" y="420.08" font-size="6.60" fill="#333333" stroke="#333333" stroke-width="0.16" text-anchor="end" textLength="3.25" lengthAdjust="spacingAndGlyphs">0</text>
<line x1="37.40" y1="387.94" x2="39.60" y2="387.94" stroke="#231f20" stroke-width="1.00" />
<text x="33.70" y="390.31" font-size="6.60" fill="#333333" stroke="#333333" stroke-width="0.16" text-anchor="end" textLength="9.75" lengthAdjust="spacingAndGlyphs">500</text>
<line x1="37.40" y1="358.17" x2="39.60" y2="358.17" stroke="#231f20" stroke-width="1.00" />
<text x="33.70" y="360.55" font-size="6.60" fill="#333333" stroke="#333333" stroke-width="0.16" text-anchor="end" textLength="13.00" lengthAdjust="spacingAndGlyphs">1000</text>
<line x1="37.40" y1="328.40" x2="39.60" y2="328.40" stroke="#231f20" stroke-width="1.00" />
<text x="33.70" y="330.78" font-size="6.60" fill="#333333" stroke="#333333" stroke-width="0.16" text-anchor="end" textLength="13.00" lengthAdjust="spacingAndGlyphs">1500</text>
<text x="0" y="2.81" font-size="7.80" fill="#231f20" stroke="#231f20" stroke-width="0.14" text-anchor="middle" textLength="57.00" lengthAdjust="spacingAndGlyphs" transform="translate(15.10 371.30) rotate(-90.0)">Tumor weight (mg)</text>
<rect x="45.80" y="386.80" width="11.20" height="30.90" fill="#dde2e6"/>
<rect x="63.80" y="406.40" width="10.60" height="11.30" fill="#77adc8"/>
<rect x="80.90" y="410.60" width="11.00" height="7.10" fill="#f8a0b2"/>
<line x1="51.10" y1="375.40" x2="51.10" y2="397.90" stroke="#7d878d" stroke-width="0.90" />
<line x1="48.60" y1="375.40" x2="53.60" y2="375.40" stroke="#7d878d" stroke-width="0.90" />
<line x1="48.60" y1="397.90" x2="53.60" y2="397.90" stroke="#7d878d" stroke-width="0.90" />
<line x1="68.80" y1="402.70" x2="68.80" y2="409.00" stroke="#1a5f88" stroke-width="0.90" />
<line x1="66.60" y1="402.70" x2="71.00" y2="402.70" stroke="#1a5f88" stroke-width="0.90" />
<line x1="66.60" y1="409.00" x2="71.00" y2="409.00" stroke="#1a5f88" stroke-width="0.90" />
<line x1="86.40" y1="409.00" x2="86.40" y2="412.00" stroke="#d0103c" stroke-width="0.90" />
<line x1="84.10" y1="409.00" x2="88.70" y2="409.00" stroke="#d0103c" stroke-width="0.90" />
<line x1="84.10" y1="412.00" x2="88.70" y2="412.00" stroke="#d0103c" stroke-width="0.90" />
<circle cx="51.10" cy="344.80" r="1.00" fill="#8a949a"/>
<circle cx="47.70" cy="404.30" r="1.00" fill="#8a949a"/>
<circle cx="54.50" cy="405.50" r="1.00" fill="#8a949a"/>
<circle cx="51.10" cy="398.50" r="1.00" fill="#8a949a"/>
<circle cx="65.50" cy="397.90" r="1.35" fill="#1a5f88"/>
<circle cx="71.50" cy="400.40" r="1.35" fill="#1a5f88"/>
<circle cx="69.20" cy="411.50" r="1.35" fill="#1a5f88"/>
<circle cx="68.80" cy="404.00" r="1.35" fill="#1a5f88"/>
<rect x="82.95" y="409.95" width="2.10" height="2.10" fill="#e0174a"/>
<rect x="84.95" y="408.55" width="2.10" height="2.10" fill="#e0174a"/>
<rect x="86.95" y="410.75" width="2.10" height="2.10" fill="#e0174a"/>
<rect x="83.95" y="411.95" width="2.10" height="2.10" fill="#e0174a"/>
<rect x="82.15" y="411.35" width="2.10" height="2.10" fill="#e0174a"/>
<rect x="88.35" y="410.15" width="2.10" height="2.10" fill="#e0174a"/>
<rect x="85.95" y="407.55" width="2.10" height="2.10" fill="#e0174a"/>
<rect x="88.95" y="411.95" width="2.10" height="2.10" fill="#e0174a"/>
<line x1="51.10" y1="417.70" x2="51.10" y2="419.70" stroke="#231f20" stroke-width="1.00" />
<line x1="68.70" y1="417.70" x2="68.70" y2="419.70" stroke="#231f20" stroke-width="1.00" />
<line x1="86.40" y1="417.70" x2="86.40" y2="419.70" stroke="#231f20" stroke-width="1.00" />
<path d="M69.80,392.50 V389.90 H86.80 V392.50" fill="none" stroke="#222" stroke-width="0.95" />
<text x="78.30" y="389.80" font-size="7.20" fill="#231f20" stroke="#231f20" stroke-width="0.05" text-anchor="middle" letter-spacing="0.20">*</text>
<text x="0" y="2.59" font-size="7.20" fill="#231f20" stroke="#231f20" stroke-width="0.14" text-anchor="end" textLength="27.20" lengthAdjust="spacingAndGlyphs" transform="translate(51.90 427.20) rotate(-45.0)">Untreated</text>
<text x="0" y="2.59" font-size="7.20" fill="#231f20" stroke="#231f20" stroke-width="0.14" text-anchor="end" textLength="40.00" lengthAdjust="spacingAndGlyphs" transform="translate(70.00 428.00) rotate(-45.0)">Ctrl CD8<tspan dy="-2.74" font-size="4.32">+</tspan><tspan dy="2.74" dx="0.58"> OT-I</tspan></text>
<text x="0" y="2.59" font-size="7.20" fill="#231f20" stroke="#231f20" stroke-width="0.14" text-anchor="end" textLength="44.00" lengthAdjust="spacingAndGlyphs" transform="translate(87.30 427.80) rotate(-45.0)"><tspan font-style="italic">Asct2</tspan> CD8<tspan dy="-2.74" font-size="4.32">+</tspan><tspan dy="2.74" dx="0.58"> OT-I</tspan></text>
<text x="113.70" y="308.80" font-size="10.9" font-weight="bold" fill="#000" stroke="#000" stroke-width="0.35">G</text>
<line x1="149.90" y1="327.80" x2="149.90" y2="370.30" stroke="#231f20" stroke-width="1.15" />
<line x1="148.30" y1="370.30" x2="151.50" y2="370.30" stroke="#231f20" stroke-width="1.00" />
<line x1="148.30" y1="377.40" x2="151.50" y2="377.40" stroke="#231f20" stroke-width="1.00" />
<line x1="149.90" y1="377.40" x2="149.90" y2="418.20" stroke="#231f20" stroke-width="1.15" />
<line x1="149.40" y1="417.70" x2="208.30" y2="417.70" stroke="#231f20" stroke-width="1.15" />
<line x1="147.70" y1="370.50" x2="149.90" y2="370.50" stroke="#231f20" stroke-width="1.00" />
<text x="144.60" y="372.88" font-size="6.60" fill="#333333" stroke="#333333" stroke-width="0.16" text-anchor="end" textLength="6.50" lengthAdjust="spacingAndGlyphs">30</text>
<line x1="147.70" y1="350.30" x2="149.90" y2="350.30" stroke="#231f20" stroke-width="1.00" />
<text x="144.60" y="352.68" font-size="6.60" fill="#333333" stroke="#333333" stroke-width="0.16" text-anchor="end" textLength="6.50" lengthAdjust="spacingAndGlyphs">35</text>
<line x1="147.70" y1="330.10" x2="149.90" y2="330.10" stroke="#231f20" stroke-width="1.00" />
<text x="144.60" y="332.48" font-size="6.60" fill="#333333" stroke="#333333" stroke-width="0.16" text-anchor="end" textLength="6.50" lengthAdjust="spacingAndGlyphs">40</text>
<line x1="147.70" y1="417.70" x2="149.90" y2="417.70" stroke="#231f20" stroke-width="1.00" />
<text x="144.60" y="420.08" font-size="6.60" fill="#333333" stroke="#333333" stroke-width="0.16" text-anchor="end" textLength="3.25" lengthAdjust="spacingAndGlyphs">0</text>
<line x1="147.70" y1="409.70" x2="149.90" y2="409.70" stroke="#231f20" stroke-width="1.00" />
<text x="144.60" y="412.08" font-size="6.60" fill="#333333" stroke="#333333" stroke-width="0.16" text-anchor="end" textLength="3.25" lengthAdjust="spacingAndGlyphs">5</text>
<line x1="147.70" y1="401.70" x2="149.90" y2="401.70" stroke="#231f20" stroke-width="1.00" />
<text x="144.60" y="404.08" font-size="6.60" fill="#333333" stroke="#333333" stroke-width="0.16" text-anchor="end" textLength="6.50" lengthAdjust="spacingAndGlyphs">10</text>
<line x1="147.70" y1="393.70" x2="149.90" y2="393.70" stroke="#231f20" stroke-width="1.00" />
<text x="144.60" y="396.08" font-size="6.60" fill="#333333" stroke="#333333" stroke-width="0.16" text-anchor="end" textLength="6.50" lengthAdjust="spacingAndGlyphs">15</text>
<line x1="147.70" y1="385.70" x2="149.90" y2="385.70" stroke="#231f20" stroke-width="1.00" />
<text x="144.60" y="388.08" font-size="6.60" fill="#333333" stroke="#333333" stroke-width="0.16" text-anchor="end" textLength="6.50" lengthAdjust="spacingAndGlyphs">20</text>
<line x1="147.70" y1="377.70" x2="149.90" y2="377.70" stroke="#231f20" stroke-width="1.00" />
<text x="144.60" y="380.08" font-size="6.60" fill="#333333" stroke="#333333" stroke-width="0.16" text-anchor="end" textLength="6.50" lengthAdjust="spacingAndGlyphs">25</text>
<text x="0" y="2.95" font-size="8.20" fill="#231f20" stroke="#231f20" stroke-width="0.14" text-anchor="middle" textLength="89.70" lengthAdjust="spacingAndGlyphs" transform="translate(118.90 370.20) rotate(-90.0)">Total number of Ag-spec.T cells/</text>
<text x="0" y="2.95" font-size="8.20" fill="#231f20" stroke="#231f20" stroke-width="0.14" text-anchor="middle" textLength="37.00" lengthAdjust="spacingAndGlyphs" transform="translate(129.90 371.90) rotate(-90.0)">mg tumor (x10<tspan dy="-3.12" font-size="4.92">3</tspan><tspan dy="3.12" dx="0.66">)</tspan></text>
<rect x="160.00" y="414.80" width="13.90" height="2.90" fill="#8cbcd8"/>
<rect x="184.10" y="393.00" width="15.80" height="24.70" fill="#f7a9b9"/>
<line x1="166.40" y1="411.40" x2="166.40" y2="414.80" stroke="#1a5f88" stroke-width="0.90" />
<line x1="163.00" y1="411.40" x2="170.50" y2="411.40" stroke="#1a5f88" stroke-width="0.90" />
<line x1="191.70" y1="384.30" x2="191.70" y2="393.00" stroke="#d0103c" stroke-width="0.90" />
<line x1="187.80" y1="384.30" x2="195.60" y2="384.30" stroke="#d0103c" stroke-width="0.90" />
<circle cx="166.40" cy="404.90" r="1.30" fill="#1a5f88"/>
<circle cx="160.10" cy="414.70" r="1.30" fill="#1a5f88"/>
<circle cx="163.50" cy="416.00" r="1.30" fill="#1a5f88"/>
<circle cx="167.00" cy="416.40" r="1.30" fill="#1a5f88"/>
<circle cx="170.50" cy="416.00" r="1.30" fill="#1a5f88"/>
<circle cx="173.00" cy="416.50" r="1.30" fill="#1a5f88"/>
<circle cx="165.00" cy="415.20" r="1.30" fill="#1a5f88"/>
<rect x="189.45" y="391.85" width="2.30" height="2.30" fill="#e0174a"/>
<rect x="192.15" y="395.35" width="2.30" height="2.30" fill="#e0174a"/>
<rect x="190.65" y="400.45" width="2.30" height="2.30" fill="#e0174a"/>
<rect x="190.65" y="408.25" width="2.30" height="2.30" fill="#e0174a"/>
<rect x="190.85" y="349.85" width="2.30" height="2.30" fill="#e0174a"/>
<line x1="166.40" y1="417.70" x2="166.40" y2="419.70" stroke="#231f20" stroke-width="1.00" />
<line x1="191.60" y1="417.70" x2="191.60" y2="419.70" stroke="#231f20" stroke-width="1.00" />
<path d="M166.50,343.20 V340.20 H192.80 V343.20" fill="none" stroke="#222" stroke-width="0.95" />
<text x="179.65" y="339.70" font-size="7.20" fill="#231f20" stroke="#231f20" stroke-width="0.05" text-anchor="middle" letter-spacing="0.20">*</text>
<text x="0" y="2.59" font-size="7.20" fill="#231f20" stroke="#231f20" stroke-width="0.14" text-anchor="end" textLength="27.00" lengthAdjust="spacingAndGlyphs" transform="translate(167.60 427.60) rotate(-45.0)">CD8<tspan dy="-2.74" font-size="4.32">+</tspan><tspan dy="2.74" dx="0.58"> OT-I</tspan></text>
<text x="0" y="2.59" font-size="7.20" fill="#231f20" stroke="#231f20" stroke-width="0.14" text-anchor="end" textLength="44.50" lengthAdjust="spacingAndGlyphs" transform="translate(193.00 426.80) rotate(-45.0)"><tspan font-style="italic">Asct2</tspan> CD8<tspan dy="-2.74" font-size="4.32">+</tspan><tspan dy="2.74" dx="0.58"> OT-I</tspan></text>
<text x="223.90" y="308.90" font-size="10.9" font-weight="bold" fill="#000" stroke="#000" stroke-width="0.35">H</text>
<line x1="253.20" y1="323.80" x2="253.20" y2="418.00" stroke="#231f20" stroke-width="1.15" />
<line x1="252.70" y1="417.50" x2="314.00" y2="417.50" stroke="#231f20" stroke-width="1.15" />
<line x1="251.00" y1="417.50" x2="253.20" y2="417.50" stroke="#231f20" stroke-width="1.00" />
<text x="248.20" y="419.88" font-size="6.60" fill="#333333" stroke="#333333" stroke-width="0.16" text-anchor="end" textLength="7.10" lengthAdjust="spacingAndGlyphs">70</text>
<line x1="251.00" y1="387.10" x2="253.20" y2="387.10" stroke="#231f20" stroke-width="1.00" />
<text x="248.20" y="389.48" font-size="6.60" fill="#333333" stroke="#333333" stroke-width="0.16" text-anchor="end" textLength="7.10" lengthAdjust="spacingAndGlyphs">80</text>
<line x1="251.00" y1="356.70" x2="253.20" y2="356.70" stroke="#231f20" stroke-width="1.00" />
<text x="248.20" y="359.08" font-size="6.60" fill="#333333" stroke="#333333" stroke-width="0.16" text-anchor="end" textLength="7.10" lengthAdjust="spacingAndGlyphs">90</text>
<line x1="251.00" y1="326.30" x2="253.20" y2="326.30" stroke="#231f20" stroke-width="1.00" />
<text x="248.20" y="328.68" font-size="6.60" fill="#333333" stroke="#333333" stroke-width="0.16" text-anchor="end" textLength="10.65" lengthAdjust="spacingAndGlyphs">100</text>
<text x="0" y="2.81" font-size="7.80" fill="#231f20" stroke="#231f20" stroke-width="0.14" text-anchor="middle" textLength="62.70" lengthAdjust="spacingAndGlyphs" transform="translate(228.60 370.40) rotate(-90.0)">% of CD8<tspan dy="-2.96" font-size="4.68">+</tspan><tspan dy="2.96" dx="0.62"> OT-I T cells</tspan></text>
<rect x="258.00" y="351.84" width="6.80" height="65.66" fill="#77adc8"/>
<rect x="269.80" y="388.10" width="7.10" height="29.40" fill="#f8a0b2"/>
<rect x="290.10" y="329.04" width="7.20" height="88.46" fill="#77adc8"/>
<rect x="302.20" y="356.10" width="7.10" height="61.40" fill="#f8a0b2"/>
<line x1="261.40" y1="348.19" x2="261.40" y2="355.18" stroke="#1d6a94" stroke-width="0.70" />
<line x1="259.60" y1="348.19" x2="263.20" y2="348.19" stroke="#1d6a94" stroke-width="0.70" />
<line x1="259.60" y1="355.18" x2="263.20" y2="355.18" stroke="#1d6a94" stroke-width="0.70" />
<line x1="273.40" y1="381.00" x2="273.40" y2="395.00" stroke="#d0103c" stroke-width="0.80" />
<line x1="271.60" y1="381.00" x2="275.20" y2="381.00" stroke="#d0103c" stroke-width="0.80" />
<line x1="271.60" y1="395.00" x2="275.20" y2="395.00" stroke="#d0103c" stroke-width="0.80" />
<line x1="293.70" y1="327.21" x2="293.70" y2="330.86" stroke="#1d6a94" stroke-width="0.70" />
<line x1="291.90" y1="327.21" x2="295.50" y2="327.21" stroke="#1d6a94" stroke-width="0.70" />
<line x1="291.90" y1="330.86" x2="295.50" y2="330.86" stroke="#1d6a94" stroke-width="0.70" />
<line x1="305.70" y1="349.70" x2="305.70" y2="362.50" stroke="#d0103c" stroke-width="0.80" />
<line x1="303.90" y1="349.70" x2="307.50" y2="349.70" stroke="#d0103c" stroke-width="0.80" />
<line x1="303.90" y1="362.50" x2="307.50" y2="362.50" stroke="#d0103c" stroke-width="0.80" />
<circle cx="258.80" cy="345.30" r="1.35" fill="#1a5f88"/>
<circle cx="261.20" cy="347.40" r="1.35" fill="#1a5f88"/>
<circle cx="263.70" cy="348.20" r="1.35" fill="#1a5f88"/>
<circle cx="260.00" cy="355.10" r="1.35" fill="#1a5f88"/>
<circle cx="262.50" cy="358.50" r="1.35" fill="#1a5f88"/>
<circle cx="260.60" cy="352.90" r="1.35" fill="#1a5f88"/>
<circle cx="291.40" cy="328.30" r="1.35" fill="#1a5f88"/>
<circle cx="294.50" cy="327.70" r="1.35" fill="#1a5f88"/>
<circle cx="292.60" cy="330.50" r="1.35" fill="#1a5f88"/>
<circle cx="295.10" cy="333.20" r="1.35" fill="#1a5f88"/>
<circle cx="295.70" cy="334.50" r="1.35" fill="#1a5f88"/>
<circle cx="293.40" cy="329.40" r="1.35" fill="#1a5f88"/>
<rect x="272.30" y="367.30" width="2.20" height="2.20" fill="#e0174a"/>
<rect x="272.30" y="374.30" width="2.20" height="2.20" fill="#e0174a"/>
<rect x="270.20" y="391.60" width="2.20" height="2.20" fill="#e0174a"/>
<rect x="274.20" y="393.10" width="2.20" height="2.20" fill="#e0174a"/>
<rect x="272.30" y="404.50" width="2.20" height="2.20" fill="#e0174a"/>
<rect x="304.50" y="336.30" width="2.20" height="2.20" fill="#e0174a"/>
<rect x="304.50" y="342.70" width="2.20" height="2.20" fill="#e0174a"/>
<rect x="302.30" y="362.70" width="2.20" height="2.20" fill="#e0174a"/>
<rect x="306.60" y="363.20" width="2.20" height="2.20" fill="#e0174a"/>
<rect x="304.50" y="369.90" width="2.20" height="2.20" fill="#e0174a"/>
<path d="M260.90,338.50 V336.10 H272.30 V338.50" fill="none" stroke="#222" stroke-width="0.95" />
<text x="266.60" y="335.80" font-size="7.20" fill="#231f20" stroke="#231f20" stroke-width="0.05" text-anchor="middle" letter-spacing="0.20">***</text>
<path d="M293.00,323.10 V320.70 H304.50 V323.10" fill="none" stroke="#222" stroke-width="0.95" />
<text x="298.75" y="320.80" font-size="7.20" fill="#231f20" stroke="#231f20" stroke-width="0.05" text-anchor="middle" letter-spacing="0.20">**</text>
<line x1="267.30" y1="417.50" x2="267.30" y2="419.30" stroke="#231f20" stroke-width="0.70" />
<line x1="299.80" y1="417.50" x2="299.80" y2="419.30" stroke="#231f20" stroke-width="0.70" />
<text x="267.20" y="429.90" font-size="6.40" fill="#231f20" stroke="#231f20" stroke-width="0.14" text-anchor="middle" textLength="13.50" lengthAdjust="spacingAndGlyphs">Lag3</text>
<text x="299.50" y="429.90" font-size="6.40" fill="#231f20" stroke="#231f20" stroke-width="0.14" text-anchor="middle" textLength="11.00" lengthAdjust="spacingAndGlyphs">PD1</text>
<text x="329.30" y="308.80" font-size="10.9" font-weight="bold" fill="#000" stroke="#000" stroke-width="0.35">I</text>
<line x1="368.60" y1="331.50" x2="368.60" y2="417.90" stroke="#231f20" stroke-width="1.15" />
<line x1="368.10" y1="417.40" x2="451.70" y2="417.40" stroke="#231f20" stroke-width="1.15" />
<line x1="366.40" y1="417.40" x2="368.60" y2="417.40" stroke="#231f20" stroke-width="1.00" />
<text x="363.00" y="419.78" font-size="6.60" fill="#333333" stroke="#333333" stroke-width="0.16" text-anchor="end" textLength="3.60" lengthAdjust="spacingAndGlyphs">0</text>
<line x1="366.40" y1="389.54" x2="368.60" y2="389.54" stroke="#231f20" stroke-width="1.00" />
<text x="363.00" y="391.92" font-size="6.60" fill="#333333" stroke="#333333" stroke-width="0.16" text-anchor="end" textLength="10.80" lengthAdjust="spacingAndGlyphs">200</text>
<line x1="366.40" y1="361.68" x2="368.60" y2="361.68" stroke="#231f20" stroke-width="1.00" />
<text x="363.00" y="364.06" font-size="6.60" fill="#333333" stroke="#333333" stroke-width="0.16" text-anchor="end" textLength="10.80" lengthAdjust="spacingAndGlyphs">400</text>
<line x1="366.40" y1="333.82" x2="368.60" y2="333.82" stroke="#231f20" stroke-width="1.00" />
<text x="363.00" y="336.20" font-size="6.60" fill="#333333" stroke="#333333" stroke-width="0.16" text-anchor="end" textLength="10.80" lengthAdjust="spacingAndGlyphs">600</text>
<text x="0" y="2.81" font-size="7.80" fill="#231f20" stroke="#231f20" stroke-width="0.14" text-anchor="middle" textLength="44.50" lengthAdjust="spacingAndGlyphs" transform="translate(334.70 375.00) rotate(-90.0)">Number spots/</text>
<text x="0" y="2.81" font-size="7.80" fill="#231f20" stroke="#231f20" stroke-width="0.14" text-anchor="middle" textLength="37.60" lengthAdjust="spacingAndGlyphs" transform="translate(344.00 373.80) rotate(-90.0)">50.000 cells</text>
<line x1="388.60" y1="417.40" x2="388.60" y2="419.20" stroke="#231f20" stroke-width="0.70" />
<line x1="431.40" y1="417.40" x2="431.40" y2="419.20" stroke="#231f20" stroke-width="0.70" />
<line x1="371.00" y1="417.20" x2="380.00" y2="417.20" stroke="#b8c0c4" stroke-width="1.00" />
<line x1="388.30" y1="378.50" x2="388.30" y2="393.00" stroke="#1a628c" stroke-width="1.10" />
<line x1="384.50" y1="386.20" x2="392.20" y2="386.20" stroke="#1a628c" stroke-width="1.20" />
<line x1="386.40" y1="378.50" x2="390.20" y2="378.50" stroke="#1a628c" stroke-width="1.10" />
<line x1="386.40" y1="393.00" x2="390.20" y2="393.00" stroke="#1a628c" stroke-width="1.10" />
<circle cx="388.30" cy="363.20" r="1.30" fill="#1a628c"/>
<circle cx="388.30" cy="378.50" r="1.30" fill="#1a628c"/>
<circle cx="386.60" cy="399.40" r="1.30" fill="#1a628c"/>
<circle cx="390.50" cy="401.50" r="1.30" fill="#1a628c"/>
<circle cx="388.00" cy="381.00" r="1.30" fill="#1a628c"/>
<line x1="400.30" y1="361.00" x2="400.30" y2="375.60" stroke="#e0174a" stroke-width="1.10" />
<line x1="396.40" y1="368.80" x2="404.10" y2="368.80" stroke="#e0174a" stroke-width="1.20" />
<line x1="398.40" y1="361.00" x2="402.20" y2="361.00" stroke="#e0174a" stroke-width="1.10" />
<line x1="398.40" y1="375.60" x2="402.20" y2="375.60" stroke="#e0174a" stroke-width="1.10" />
<rect x="396.70" y="348.00" width="2.20" height="2.20" fill="#e0174a"/>
<rect x="401.30" y="350.20" width="2.20" height="2.20" fill="#e0174a"/>
<rect x="399.40" y="374.50" width="2.20" height="2.20" fill="#e0174a"/>
<rect x="399.10" y="381.30" width="2.20" height="2.20" fill="#e0174a"/>
<rect x="399.10" y="385.40" width="2.20" height="2.20" fill="#e0174a"/>
<path d="M387.10,344.10 V342.30 H400.70 V344.10" fill="none" stroke="#222" stroke-width="0.95" />
<text x="393.90" y="342.40" font-size="7.20" fill="#231f20" stroke="#231f20" stroke-width="0.05" text-anchor="middle" letter-spacing="0.20">*</text>
<line x1="417.00" y1="417.10" x2="424.60" y2="417.10" stroke="#b8c0c4" stroke-width="1.00" />
<line x1="428.30" y1="417.10" x2="435.40" y2="417.10" stroke="#1d6a94" stroke-width="1.40" />
<circle cx="431.40" cy="416.80" r="1.10" fill="#1d6a94"/>
<circle cx="432.60" cy="417.80" r="1.00" fill="#1d6a94"/>
<line x1="439.40" y1="417.10" x2="447.70" y2="417.10" stroke="#e0174a" stroke-width="1.60" />
<text x="0" y="2.59" font-size="7.20" fill="#231f20" stroke="#231f20" stroke-width="0.14" text-anchor="end" textLength="26.00" lengthAdjust="spacingAndGlyphs" transform="translate(389.80 426.60) rotate(-45.0)">SIINFEKL</text>
<text x="0" y="2.59" font-size="7.20" fill="#231f20" stroke="#231f20" stroke-width="0.14" text-anchor="end" textLength="20.00" lengthAdjust="spacingAndGlyphs" transform="translate(432.00 426.80) rotate(-45.0)">Unstim.</text>
<circle cx="459.20" cy="374.30" r="0.70" fill="#b8c0c4"/>
<circle cx="459.20" cy="382.80" r="0.80" fill="#1d6a94"/>
<circle cx="459.20" cy="390.80" r="0.80" fill="#e0174a"/>
<text x="463.40" y="376.65" font-size="6.80" fill="#231f20" stroke="#231f20" stroke-width="0.14" textLength="29.00" lengthAdjust="spacingAndGlyphs">Untreated</text>
<text x="463.40" y="385.45" font-size="6.80" fill="#231f20" stroke="#231f20" stroke-width="0.14" textLength="29.60" lengthAdjust="spacingAndGlyphs">CD8<tspan dy="-2.58" font-size="4.08">+</tspan><tspan dy="2.58" dx="0.54"> OT-I</tspan></text>
<text x="463.40" y="393.25" font-size="6.80" fill="#231f20" stroke="#231f20" stroke-width="0.14" textLength="47.40" lengthAdjust="spacingAndGlyphs"><tspan font-style="italic">Asct2</tspan> CD8<tspan dy="-2.58" font-size="4.08">+</tspan><tspan dy="2.58" dx="0.54"> OT-I</tspan></text>
</svg><div id="bd"></div></div></body></html>
